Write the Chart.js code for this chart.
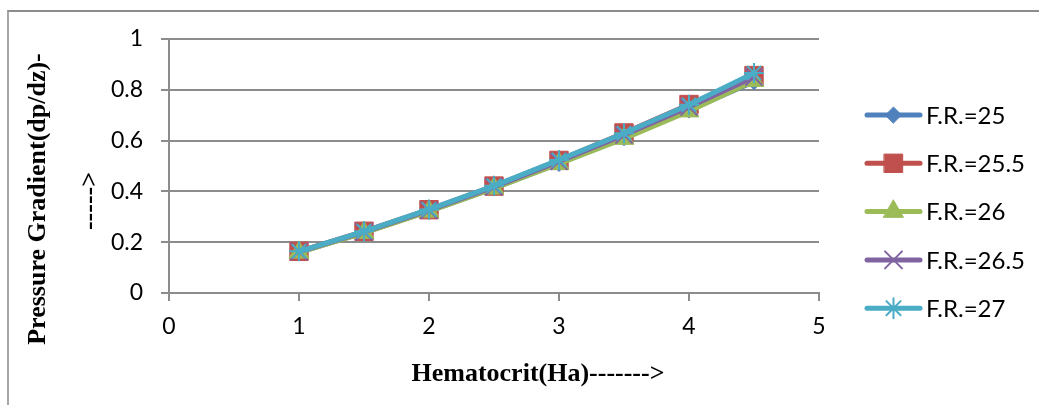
<!DOCTYPE html>
<html>
<head>
<meta charset="utf-8">
<script src="https://cdn.jsdelivr.net/npm/chart.js@4"></script>
<style>
body { margin: 0; background: #fff; }
#wrap { position: relative; width: 1039px; height: 405px; overflow: hidden; }
#frame { position: absolute; left: 7px; top: 10px; width: 1100px; height: 500px; border-top: 2px solid #8c8c8c; border-left: 2px solid #a6a6a6; }
#chart { position: absolute; left: 0; top: 0; }
</style>
</head>
<body>
<div id="wrap">
  <div id="frame"></div>
  <canvas id="chart" width="1039" height="405"></canvas>
</div>
<script>
// hematocrit values along x
const hematocrit = [1, 1.5, 2, 2.5, 3, 3.5, 4, 4.5];
// pressure gradient per flow rate
const fr25   = [0.160, 0.238, 0.322, 0.413, 0.510, 0.611, 0.720, 0.832];
const fr25_5 = [0.164, 0.243, 0.328, 0.421, 0.522, 0.630, 0.742, 0.856];
const fr26   = [0.160, 0.237, 0.321, 0.412, 0.509, 0.608, 0.716, 0.836];
const fr26_5 = [0.163, 0.241, 0.326, 0.418, 0.518, 0.622, 0.732, 0.850];
const fr27   = [0.164, 0.243, 0.329, 0.422, 0.524, 0.629, 0.741, 0.866];
const seriesNames = ['F.R.=25', 'F.R.=25.5', 'F.R.=26', 'F.R.=26.5', 'F.R.=27'];
const xTicks = [0, 1, 2, 3, 4, 5];
const yTicks = [0, 0.2, 0.4, 0.6, 0.8, 1];
const xTitle = 'Hematocrit(Ha)------->';
const yTitle = ['Pressure Gradient(dp/dz)-', '----->'];

const allSeries = [fr25, fr25_5, fr26, fr26_5, fr27];
const colors = ['#4F81BD', '#C0504D', '#9BBB59', '#8064A2', '#4BACC6'];
const styles = ['rectRot', 'rect', 'triangle', 'crossRot', 'star'];
const radii = [8, 13, 11.5, 12, 10];

const gridColor = '#8c8c8c';

const datasets = allSeries.map((vals, i) => ({
  label: seriesNames[i],
  data: vals.map((v, j) => ({ x: hematocrit[j], y: v })),
  borderColor: colors[i],
  backgroundColor: colors[i],
  borderWidth: 5,
  pointStyle: styles[i],
  pointRadius: radii[i],
  pointBorderWidth: (styles[i] === 'crossRot' || styles[i] === 'star') ? 2 : 1,
  pointBackgroundColor: colors[i],
  pointBorderColor: colors[i],
  tension: 0,
  order: 4 - i
}));

// titles and the line+marker legend
const extras = {
  id: 'extras',
  afterDraw(chart) {
    const ctx = chart.ctx;
    const area = chart.chartArea;
    ctx.save();
    ctx.fillStyle = '#000';
    ctx.font = 'bold 26px "Liberation Serif"';
    ctx.textAlign = 'center';
    ctx.textBaseline = 'middle';
    ctx.fillText(xTitle, 538, 374);

    ctx.save();
    ctx.translate(38, 199);
    ctx.rotate(-Math.PI / 2);
    ctx.fillText(yTitle[0], 0, 0);
    ctx.restore();
    ctx.save();
    ctx.translate(90, 201);
    ctx.rotate(-Math.PI / 2);
    ctx.fillText(yTitle[1], 0, 0);
    ctx.restore();

    const x0 = area.right + 48;
    const x1 = area.right + 101;
    chart.data.datasets.forEach((ds, i) => {
      const y = 115 + i * 48.3;
      ctx.strokeStyle = ds.borderColor;
      ctx.fillStyle = ds.borderColor;
      ctx.lineWidth = 5;
      ctx.lineCap = 'round';
      ctx.beginPath();
      ctx.moveTo(x0, y);
      ctx.lineTo(x1, y);
      ctx.stroke();
      ctx.lineWidth = ds.pointBorderWidth;
      Chart.helpers.drawPoint(ctx, { pointStyle: ds.pointStyle, radius: ds.pointRadius, rotation: 0, borderWidth: ds.pointBorderWidth }, (x0 + x1) / 2, y);
      ctx.fillStyle = '#000';
      ctx.font = '24px Lato';
      ctx.textAlign = 'left';
      ctx.fillText(ds.label, x1 + 6, y + 1);
    });
    ctx.restore();
  }
};

new Chart(document.getElementById('chart'), {
  type: 'line',
  data: { datasets: datasets },
  options: {
    responsive: false,
    animation: false,
    devicePixelRatio: 1,
    layout: { padding: { left: 0, top: 39, right: 220, bottom: 0 } },
    plugins: { legend: { display: false }, tooltip: { enabled: false } },
    scales: {
      x: {
        type: 'linear',
        min: 0,
        max: 5,
        afterBuildTicks: s => { s.ticks = xTicks.map(v => ({ value: v })); },
        afterFit: s => { s.height = 112; },
        grid: { drawOnChartArea: false, color: gridColor, lineWidth: 2, tickLength: 8 },
        border: { color: gridColor, width: 2 },
        ticks: { color: '#000', font: { family: 'Lato', size: 23 }, padding: 12, callback: v => String(v) }
      },
      y: {
        min: 0,
        max: 1,
        afterBuildTicks: s => { s.ticks = yTicks.map(v => ({ value: v })); },
        afterFit: s => { s.width = 169; },
        grid: { color: gridColor, lineWidth: 2, tickLength: 8 },
        border: { color: gridColor, width: 2 },
        ticks: { color: '#000', font: { family: 'Lato', size: 23 }, padding: 18, callback: v => String(v) }
      }
    }
  },
  plugins: [extras]
});
</script>
</body>
</html>
